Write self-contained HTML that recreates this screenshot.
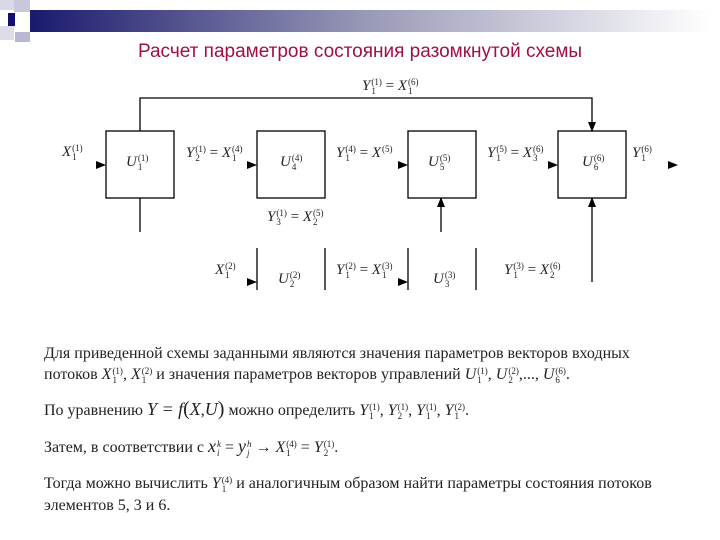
<!DOCTYPE html>
<html><head><meta charset="utf-8"><style>
body{margin:0;width:720px;height:540px;background:#fff;overflow:hidden;position:relative;font-family:"Liberation Serif",serif}
.t{position:absolute;font-size:15px;color:#222;white-space:nowrap}
i{font-style:italic}
.ss{display:inline-block;vertical-align:-4px;font-size:9px;line-height:9px;margin-left:1px}
.ss b{display:block;font-weight:normal}
.p{font-size:16px}
</style></head><body>
<svg width="720" height="540" style="position:absolute;left:0;top:0">
<defs><linearGradient id="g" x1="0" x2="1"><stop offset="0" stop-color="#1a1a6e"/><stop offset="0.5" stop-color="#9a9ab8"/><stop offset="1" stop-color="#fff"/></linearGradient>
<marker id="a" markerWidth="10" markerHeight="8" refX="9" refY="4" orient="auto" markerUnits="userSpaceOnUse"><path d="M0,0L10,4L0,8z" fill="#000"/></marker></defs>
<rect x="0" y="0" width="14" height="10" fill="#d8d8e8"/><rect x="14" y="0" width="16" height="12" fill="#c8c8dc"/>
<rect x="0" y="26" width="14" height="14" fill="#dcdcea"/><rect x="15" y="32" width="15" height="10" fill="#b8b8d0"/>
<rect x="30" y="10" width="680" height="22" fill="url(#g)"/>
<rect x="8" y="13" width="7" height="13" fill="#101070"/>
<text x="360" y="57" text-anchor="middle" font-family="Liberation Sans,sans-serif" font-size="19" fill="#a01048">Расчет параметров состояния разомкнутой схемы</text>
<g fill="none" stroke="#000" stroke-width="1.3">
<rect x="106" y="131" width="68" height="67"/><rect x="257" y="131" width="68" height="67"/>
<rect x="408" y="131" width="68" height="67"/><rect x="558" y="131" width="68" height="67"/>
<path d="M257,290V248M325,248V290M408,290V248M476,248V290"/>
<path d="M140,131V98H592V131" marker-end="url(#a)"/>
<path d="M140,198V232"/>
<path d="M441,232V198" marker-end="url(#a)"/>
<path d="M592,282V198" marker-end="url(#a)"/>
</g>
<g fill="#000">
<path d="M96,161l10,4l-10,4z"/><path d="M247,161l10,4l-10,4z"/><path d="M398,161l10,4l-10,4z"/>
<path d="M548,161l10,4l-10,4z"/><path d="M668,161l10,4l-10,4z"/>
<path d="M247,278l10,4l-10,4z"/><path d="M398,278l10,4l-10,4z"/>
</g>
</svg>
<div class="t" style="left:62px;top:144px"><i>X</i><span class="ss"><b>(1)</b><b>1</b></span></div>
<div class="t" style="left:126px;top:154px"><i>U</i><span class="ss"><b>(1)</b><b>1</b></span></div>
<div class="t" style="left:186px;top:145px"><i>Y</i><span class="ss"><b>(1)</b><b>2</b></span> = <i>X</i><span class="ss"><b>(4)</b><b>1</b></span></div>
<div class="t" style="left:280px;top:154px"><i>U</i><span class="ss"><b>(4)</b><b>4</b></span></div>
<div class="t" style="left:336px;top:145px"><i>Y</i><span class="ss"><b>(4)</b><b>1</b></span> = <i>X</i><span class="ss"><b>(5)</b><b>&nbsp;</b></span></div>
<div class="t" style="left:428px;top:154px"><i>U</i><span class="ss"><b>(5)</b><b>5</b></span></div>
<div class="t" style="left:487px;top:145px"><i>Y</i><span class="ss"><b>(5)</b><b>1</b></span> = <i>X</i><span class="ss"><b>(6)</b><b>3</b></span></div>
<div class="t" style="left:582px;top:154px"><i>U</i><span class="ss"><b>(6)</b><b>6</b></span></div>
<div class="t" style="left:632px;top:145px"><i>Y</i><span class="ss"><b>(6)</b><b>1</b></span></div>
<div class="t" style="left:362px;top:78px"><i>Y</i><span class="ss"><b>(1)</b><b>1</b></span> = <i>X</i><span class="ss"><b>(6)</b><b>1</b></span></div>
<div class="t" style="left:267px;top:209px"><i>Y</i><span class="ss"><b>(1)</b><b>3</b></span> = <i>X</i><span class="ss"><b>(5)</b><b>2</b></span></div>
<div class="t" style="left:215px;top:262px"><i>X</i><span class="ss"><b>(2)</b><b>1</b></span></div>
<div class="t" style="left:278px;top:271px"><i>U</i><span class="ss"><b>(2)</b><b>2</b></span></div>
<div class="t" style="left:336px;top:262px"><i>Y</i><span class="ss"><b>(2)</b><b>1</b></span> = <i>X</i><span class="ss"><b>(3)</b><b>1</b></span></div>
<div class="t" style="left:433px;top:271px"><i>U</i><span class="ss"><b>(3)</b><b>3</b></span></div>
<div class="t" style="left:504px;top:262px"><i>Y</i><span class="ss"><b>(3)</b><b>1</b></span> = <i>X</i><span class="ss"><b>(6)</b><b>2</b></span></div>
<div class="t p" style="left:44px;top:345px">Для приведенной схемы заданными являются значения параметров векторов входных</div>
<div class="t p" style="left:44px;top:366px">потоков <i>X</i><span class="ss"><b>(1)</b><b>1</b></span>, <i>X</i><span class="ss"><b>(2)</b><b>1</b></span> и значения параметров векторов управлений <i>U</i><span class="ss"><b>(1)</b><b>1</b></span>, <i>U</i><span class="ss"><b>(2)</b><b>2</b></span>,..., <i>U</i><span class="ss"><b>(6)</b><b>6</b></span>.</div>
<div class="t p" style="left:44px;top:398px">По уравнению <i style="font-size:18px">Y = f</i><span style="font-size:20px">(</span><i style="font-size:18px">X</i>,<i style="font-size:18px">U</i><span style="font-size:20px">)</span> можно определить <i>Y</i><span class="ss"><b>(1)</b><b>1</b></span>, <i>Y</i><span class="ss"><b>(1)</b><b>2</b></span>, <i>Y</i><span class="ss"><b>(1)</b><b>1</b></span>, <i>Y</i><span class="ss"><b>(2)</b><b>1</b></span>.</div>
<div class="t p" style="left:44px;top:436px">Затем, в соответствии с <i style="font-size:18px">x</i><span class="ss"><b><i>k</i></b><b><i>i</i></b></span> = <i style="font-size:18px">y</i><span class="ss"><b><i>h</i></b><b><i>j</i></b></span> → <i>X</i><span class="ss"><b>(4)</b><b>1</b></span> = <i>Y</i><span class="ss"><b>(1)</b><b>2</b></span>.</div>
<div class="t p" style="left:44px;top:475px">Тогда можно вычислить <i>Y</i><span class="ss"><b>(4)</b><b>1</b></span> и аналогичным образом найти параметры состояния потоков</div>
<div class="t p" style="left:44px;top:497px">элементов 5, 3 и 6.</div>
</body></html>
